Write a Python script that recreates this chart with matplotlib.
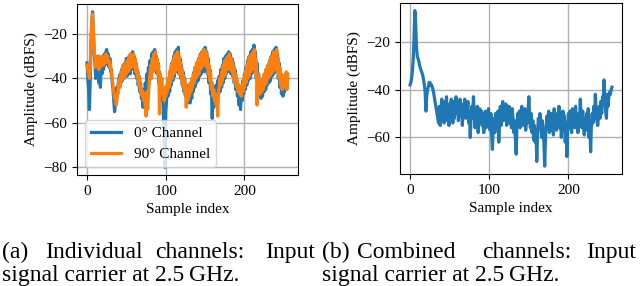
import numpy as np
import matplotlib.pyplot as plt

plt.rcParams['font.family'] = ['Liberation Serif', 'DejaVu Serif']

# sample index of the 256-point capture
sample_idx = list(range(256))

# (a) individual channels, dBFS
ch0_dbfs = [
    -33, -40, -45, -54, -42, -25, -15, -10, -18, -28,
    -33, -40, -31, -36, -30, -42, -33, -44, -31, -38,
    -30, -36, -29, -34, -28, -27, -33, -29, -35, -31,
    -37, -36, -42, -45, -50, -55, -52, -49, -44, -47,
    -40, -44, -38, -42, -36, -41, -34, -40, -33, -38,
    -31, -39, -32, -37, -30, -38, -29, -35, -28, -36,
    -30, -38, -33, -40, -36, -43, -39, -46, -42, -49,
    -47, -53, -45, -50, -42, -47, -38, -44, -35, -41,
    -32, -39, -29, -37, -28, -35, -27, -36, -30, -38,
    -33, -42, -37, -46, -40, -50, -44, -58, -62, -80,
    -55, -50, -44, -48, -40, -46, -36, -43, -33, -41,
    -30, -39, -28, -37, -27, -35, -26, -38, -31, -40,
    -34, -43, -37, -46, -40, -48, -43, -50, -45, -51,
    -47, -51, -43, -49, -40, -46, -37, -44, -35, -42,
    -33, -41, -31, -39, -29, -38, -28, -36, -27, -37,
    -26, -35, -28, -38, -31, -42, -36, -47, -43, -58,
    -48, -53, -45, -51, -43, -52, -41, -48, -39, -46,
    -36, -44, -34, -42, -31, -40, -30, -38, -29, -37,
    -28, -36, -29, -38, -31, -39, -33, -42, -36, -45,
    -40, -48, -44, -52, -47, -54, -45, -50, -41, -47,
    -38, -45, -35, -43, -32, -41, -30, -40, -28, -38,
    -27, -37, -25, -36, -28, -40, -33, -44, -38, -47,
    -41, -49, -43, -48, -40, -46, -38, -45, -36, -43,
    -34, -42, -32, -41, -30, -39, -28, -38, -27, -37,
    -26, -36, -29, -40, -33, -44, -38, -47, -42, -48,
    -41, -46, -38, -44, -39, -40,
]
ch90_dbfs = [
    -34, -36, -38, -40, -36, -24, -14, -11, -17, -27,
    -31, -35, -30, -34, -31, -36, -30, -35, -31, -34,
    -30, -34, -30, -33, -29, -31, -30, -33, -32, -35,
    -34, -38, -40, -43, -46, -49, -48, -52, -50, -46,
    -42, -40, -44, -37, -41, -35, -40, -34, -39, -33,
    -38, -32, -37, -30, -36, -29, -35, -30, -34, -29,
    -35, -31, -37, -34, -40, -37, -43, -40, -46, -44,
    -48, -46, -50, -48, -53, -57, -46, -54, -48, -42,
    -38, -34, -40, -31, -37, -29, -36, -28, -35, -31,
    -38, -34, -56, -38, -44, -40, -47, -44, -50, -46,
    -48, -43, -46, -40, -44, -37, -42, -34, -40, -32,
    -38, -30, -37, -29, -36, -28, -34, -30, -38, -33,
    -41, -36, -44, -39, -47, -42, -53, -45, -50, -44,
    -48, -42, -46, -40, -44, -38, -42, -35, -40, -33,
    -39, -32, -38, -30, -36, -29, -35, -28, -34, -27,
    -33, -28, -35, -30, -38, -34, -41, -38, -45, -42,
    -48, -45, -50, -47, -52, -49, -57, -46, -44, -40,
    -43, -37, -41, -34, -39, -32, -38, -31, -36, -30,
    -35, -29, -36, -31, -37, -33, -40, -35, -42, -38,
    -44, -41, -46, -43, -47, -44, -48, -43, -46, -40,
    -44, -37, -42, -34, -40, -32, -39, -30, -37, -29,
    -36, -28, -35, -27, -38, -32, -52, -38, -45, -40,
    -47, -42, -46, -40, -45, -38, -43, -36, -42, -35,
    -40, -33, -39, -31, -38, -30, -37, -28, -36, -29,
    -35, -27, -37, -31, -40, -35, -43, -38, -45, -40,
    -44, -39, -43, -37, -45, -38,
]

# (b) combined channels, dBFS
comb_dbfs = [
    -38, -37, -35, -32, -27, -18, -7, -12, -22, -26,
    -27, -28, -30, -31, -32, -33, -34, -36, -38, -41,
    -49, -43, -40, -39, -37, -37, -38, -38, -39, -40,
    -42, -44, -46, -48, -50, -52, -54, -47, -55, -49,
    -44, -52, -47, -54, -45, -50, -43, -53, -48, -55,
    -46, -51, -44, -49, -54, -45, -52, -47, -43, -50,
    -45, -53, -48, -44, -51, -46, -55, -47, -50, -44,
    -52, -46, -49, -45, -54, -50, -60, -51, -47, -52,
    -43, -50, -56, -49, -53, -47, -58, -51, -48, -54,
    -49, -55, -50, -58, -52, -49, -56, -51, -54, -48,
    -53, -57, -50, -59, -65, -55, -52, -58, -50, -54,
    -56, -49, -62, -53, -47, -55, -50, -45, -53, -48,
    -52, -46, -55, -49, -51, -47, -54, -50, -56, -48,
    -52, -58, -53, -60, -67, -55, -50, -54, -49, -56,
    -51, -47, -55, -50, -53, -48, -57, -51, -54, -49,
    -43, -52, -56, -50, -58, -53, -61, -55, -62, -57,
    -70, -58, -52, -56, -50, -55, -60, -53, -57, -62,
    -72, -60, -55, -51, -56, -49, -58, -53, -50, -57,
    -52, -59, -48, -55, -51, -57, -50, -54, -47, -56,
    -52, -60, -55, -49, -57, -51, -62, -54, -68, -57,
    -50, -56, -49, -54, -58, -48, -53, -50, -56, -47,
    -55, -51, -58, -50, -53, -44, -52, -56, -49, -54,
    -59, -52, -57, -50, -55, -48, -60, -53, -66, -55,
    -50, -54, -47, -52, -42, -49, -53, -55, -51, -47,
    -52, -45, -50, -43, -46, -36, -44, -49, -52, -42,
    -47, -43, -41, -42, -40, -39,
]

fig = plt.figure(figsize=(6.4, 2.86), dpi=100)
ax1 = fig.add_axes([0.1203, 0.388, 0.345, 0.598])
ax2 = fig.add_axes([0.625, 0.392, 0.347, 0.598])

fs = 11
lw = 2.3
ax1.plot(sample_idx, ch0_dbfs, color='#1f77b4', lw=lw, label='0° Channel')
ax1.plot(sample_idx, ch90_dbfs, color='#ff7f0e', lw=lw, label='90° Channel')
ax1.set_yticks([-80, -60, -40, -20])
ax1.legend(loc='lower left', fontsize=fs)

ax2.plot(sample_idx, comb_dbfs, color='#1f77b4', lw=lw)
ax2.set_yticks([-60, -40, -20])

for ax in (ax1, ax2):
    ax.set_xticks([0, 100, 200])
    ax.grid(True, color='#b0b0b0', lw=1)
    ax.set_axisbelow(True)
    ax.tick_params(labelsize=fs)
    ax.set_xlabel('Sample index', fontsize=fs)
    ax.set_ylabel('Amplitude (dBFS)', fontsize=fs)

# captions (first line justified)
cap = 17
W, H = 640, 286
def put(px, py, s, ha='left'):
    fig.text(px / W, 1 - py / H, s, fontsize=cap, ha=ha, va='baseline')

put(2, 258, '(a)')
put(45, 258, 'Individual')
put(155, 258, 'channels:')
put(315, 258, 'Input', ha='right')
put(2, 281, 'signal carrier at 2.5\u2009GHz.')

put(322, 258, '(b)')
put(357, 258, 'Combined')
put(482, 258, 'channels:')
put(636, 258, 'Input', ha='right')
put(322, 281, 'signal carrier at 2.5\u2009GHz.')

fig.savefig('out.png', dpi=100)
